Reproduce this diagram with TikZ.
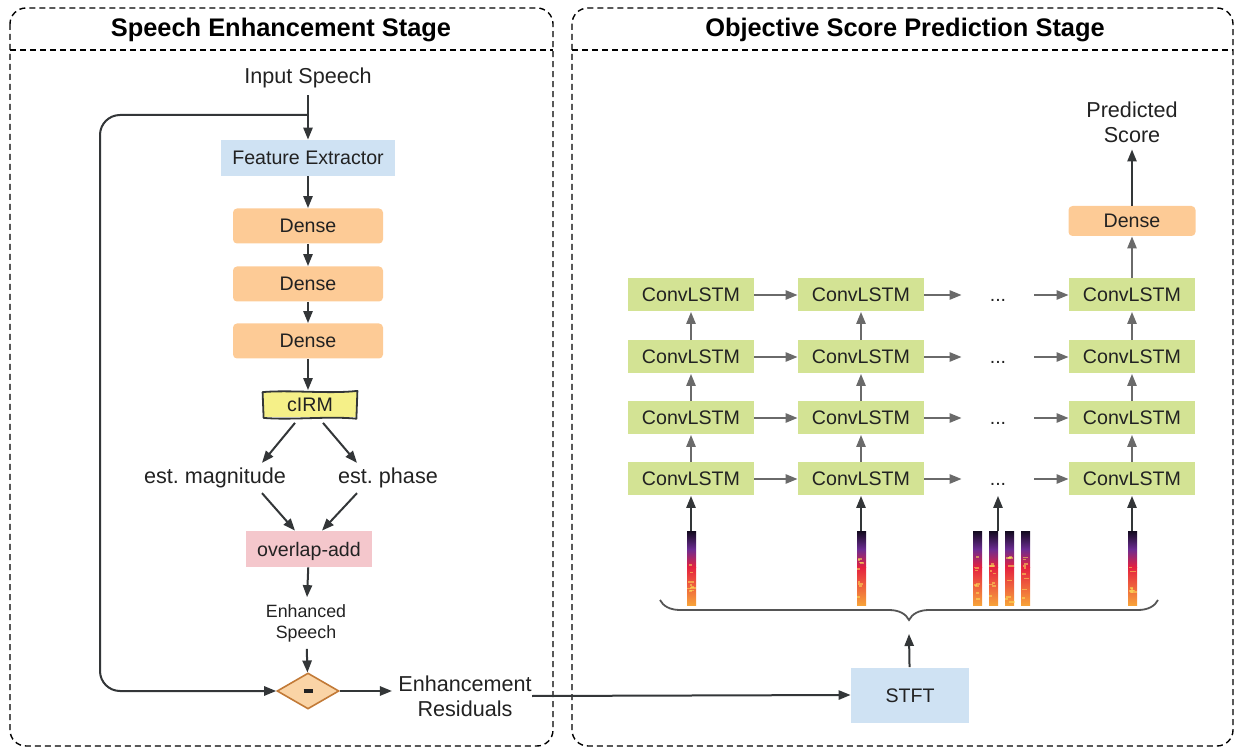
\documentclass[tikz,border=0pt]{standalone}
\usepackage{fontspec}
\setmainfont{Liberation Sans}
\usetikzlibrary{arrows.meta,decorations.pathreplacing,shapes.geometric}
\frenchspacing
\definecolor{txt}{HTML}{222222}
\definecolor{boxblue}{HTML}{CFE2F3}
\definecolor{boxorange}{HTML}{FDCB96}
\definecolor{boxgreen}{HTML}{D3E394}
\definecolor{boxpink}{HTML}{F4C7CC}
\definecolor{boxyellow}{HTML}{F5F088}
\definecolor{diafill}{HTML}{FAD4A6}
\definecolor{diadraw}{HTML}{C27A37}
\definecolor{arrdark}{HTML}{333638}
\definecolor{arrgray}{HTML}{6A6A6A}
\definecolor{braceclr}{HTML}{555555}
\definecolor{spA}{HTML}{120A1E}
\definecolor{spB}{HTML}{6B2C91}
\definecolor{spC}{HTML}{E5213F}
\definecolor{spD}{HTML}{F7A23A}
\definecolor{spE}{HTML}{FCE25A}
\tikzset{
  lbl/.style={font=\fontsize{10.8}{12.5}\selectfont, align=center},
  box/.style={inner sep=0pt, font=\fontsize{9.8}{11}\selectfont, text height=7pt, text depth=0pt},
  fe/.style={box, fill=boxblue, minimum width=87pt, minimum height=18pt},
  dense/.style={box, fill=boxorange, rounded corners=2pt, minimum width=75pt, minimum height=17.5pt},
  lstm/.style={box, fill=boxgreen, minimum width=63pt, minimum height=16.5pt},
  arr/.style={-{Triangle[length=6pt,width=4.6pt]}, draw=arrdark, line width=1pt},
  garr/.style={-{Triangle[length=6pt,width=4.6pt]}, draw=arrgray, line width=1pt},
  panel/.style={dash pattern=on 3pt off 2pt, line width=0.7pt, rounded corners=8pt}
}
\begin{document}
\begin{tikzpicture}[x=0.5pt,y=-0.5pt, every node/.style={text=txt}]
\useasboundingbox (0,0) rectangle (1237,748);
\draw[panel] (10,8) rectangle (553,746);
\draw[panel] (572,8) rectangle (1233,746);
\draw[dash pattern=on 3pt off 2pt, line width=0.7pt] (10,50) -- (553,50) (572,50) -- (1233,50);
\node[font=\fontsize{12.7}{14}\selectfont\bfseries, text=black] (t1) at (281,30) {Speech Enhancement Stage};
\node[font=\fontsize{12.7}{14}\selectfont\bfseries, text=black] (t2) at (905,30) {Objective Score Prediction Stage};

\node[lbl] (inp) at (308,78) {Input Speech};
\node[fe] (fe) at (308,158) {Feature Extractor};
\node[dense] (d1) at (308,226) {Dense};
\node[dense] (d2) at (308,284) {Dense};
\node[dense] (d3) at (308,341) {Dense};
\node[box, fill=boxyellow, minimum width=47pt, minimum height=12.5pt] (cirm) at (310,405) {cIRM};
\draw[arrdark, line width=0.9pt, line join=round]
  (cirm.north west) .. controls ([xshift=14pt,yshift=1.2pt]cirm.north west) and ([xshift=-14pt,yshift=-1pt]cirm.north east) .. ([yshift=0.6pt]cirm.north east)
  -- ([xshift=-0.5pt,yshift=-0.4pt]cirm.south east)
  .. controls ([xshift=-14pt,yshift=1pt]cirm.south east) and ([xshift=14pt,yshift=-1.2pt]cirm.south west) .. ([xshift=0.5pt]cirm.south west)
  -- cycle;
\node[lbl] (mag) at (215,478) {est. magnitude};
\node[lbl] (pha) at (388,478) {est. phase};
\node[box, fill=boxpink, minimum width=63pt, minimum height=18pt] (ola) at (309,549) {overlap-add};
\node[font=\fontsize{8.9}{10.5}\selectfont, align=center] (enh) at (306,623) {Enhanced\\Speech};
\node[diamond, draw=diadraw, fill=diafill, line width=0.8pt, inner sep=0pt, minimum width=31pt, minimum height=18pt] (dia) at (308,691) {\rule[-1.2pt]{4.5pt}{2.4pt}};
\node[lbl, inner sep=0pt] (res) at (465,696) {Enhancement\\Residuals};
\node[fe, minimum width=59pt, minimum height=27.5pt] (stft) at (910,695) {STFT};

\coordinate (jn) at (308,115);
\draw[arr] (inp) -- (fe);
\draw[arr] (fe) -- (d1);
\draw[arr] (d1) -- (d2);
\draw[arr] (d2) -- (d3);
\draw[arr] (d3) -- ([yshift=1pt]cirm.north -| d3.south);
\draw[arr] ([xshift=-7.5pt,yshift=-2.5pt]cirm.south) -- ([xshift=23.5pt,yshift=-1pt]mag.north);
\draw[arr] ([xshift=6.5pt,yshift=-2.5pt]cirm.south) -- ([xshift=-15.5pt,yshift=-1pt]pha.north);
\draw[arr] ([xshift=23.5pt,yshift=1pt]mag.south) -- ([xshift=-7pt]ola.north);
\draw[arr] ([xshift=-15.5pt,yshift=1pt]pha.south) -- ([xshift=6.5pt]ola.north);
\draw[arr] (ola) -- (enh);
\draw[arr] (enh) -- (dia);
\draw[arr, rounded corners=10pt] (jn) -| (100,691) -- (dia);
\draw[arr] (dia.east) -- ([xshift=-3pt]dia.east -| res.west);
\draw[arr] (res.east) -- (stft.west);

\foreach \r/\y in {1/479,2/418,3/357,4/295}{
  \node[lstm] (a\r) at (691,\y) {ConvLSTM};
  \node[lstm] (b\r) at (861,\y) {ConvLSTM};
  \node[box, minimum width=36pt, minimum height=16.5pt] (c\r) at (998,\y) {...};
  \node[lstm] (e\r) at (1132,\y) {ConvLSTM};
  \draw[garr] (a\r) -- (b\r);
  \draw[garr] (b\r) -- (c\r);
  \draw[garr] (c\r) -- (e\r);
}
\foreach \c in {a,b,e}
  \foreach \r/\s in {1/2,2/3,3/4}
    \draw[garr] (\c\r) -- (\c\s);
\node[dense, minimum width=63.5pt, minimum height=15pt] (dn) at (1132,221) {Dense};
\node[lbl] (score) at (1132,122) {Predicted\\Score};
\draw[garr] (e4) -- (dn);
\draw[arr] (dn) -- (score);

\pgfmathsetseed{11}
\foreach \sx in {687,857,973,989,1005,1021,1128}{
  \shade[top color=spA, bottom color=spC, middle color=spB] (\sx,531) rectangle ++(9,36);
  \shade[top color=spC, bottom color=spD] (\sx,567) rectangle ++(9,38);
  \foreach \k in {1,...,9}{
    \pgfmathsetmacro\yy{556+46*rnd}
    \pgfmathsetmacro\xx{\sx+4*rnd}
    \pgfmathsetmacro\ww{2+4*rnd}
    \fill[spE, opacity=0.55] (\xx,\yy) rectangle ++(\ww,1.6);
  }
}
\foreach \c/\x in {a/691,b/861,c/998,e/1132}{
  \coordinate (s\c) at (\x,531);
  \draw[arr] (s\c) -- (\c1);
}
\draw[decorate, decoration={brace, amplitude=10pt}, draw=braceclr, line width=0.9pt] (1158,600) -- (660,600);
\coordinate (bt) at (909,634);
\draw[arr] (stft) -- (bt);
\end{tikzpicture}
\end{document}
